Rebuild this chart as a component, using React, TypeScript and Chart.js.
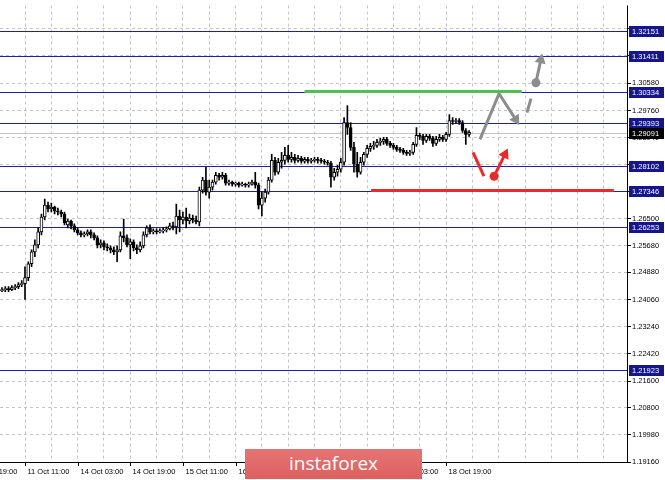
import React, { useEffect, useRef } from 'react';
import { Chart, registerables } from 'chart.js';

Chart.register(...registerables);

// ---- data (GBP/USD H1) ----
const FIRST_BAR = -7;
const opens = [
  1.2433, 1.2436, 1.2439, 1.2436, 1.2442, 1.2445, 1.2451, 1.2454, 1.2472, 1.2514,
  1.2550, 1.2571, 1.2610, 1.2655, 1.2691, 1.2679, 1.2685, 1.2673, 1.2670, 1.2664,
  1.2631, 1.2643, 1.2628, 1.2616, 1.2607, 1.2601, 1.2604, 1.2610, 1.2601, 1.2592,
  1.2571, 1.2577, 1.2565, 1.2562, 1.2556, 1.2550, 1.2556, 1.2598, 1.2592, 1.2571,
  1.2580, 1.2562, 1.2556, 1.2568, 1.2601, 1.2622, 1.2610, 1.2613, 1.2610, 1.2613,
  1.2616, 1.2619, 1.2628, 1.2625, 1.2658, 1.2646, 1.2655, 1.2643, 1.2652, 1.2646,
  1.2640, 1.2736, 1.2766, 1.2730, 1.2745, 1.2760, 1.2781, 1.2775, 1.2781, 1.2757,
  1.2760, 1.2754, 1.2757, 1.2751, 1.2754, 1.2751, 1.2754, 1.2760, 1.2751, 1.2691,
  1.2712, 1.2730, 1.2766, 1.2826, 1.2790, 1.2820, 1.2826, 1.2841, 1.2829, 1.2835,
  1.2826, 1.2832, 1.2823, 1.2829, 1.2823, 1.2826, 1.2829, 1.2826, 1.2823, 1.2820,
  1.2817, 1.2775, 1.2790, 1.2799, 1.2820, 1.2940, 1.2925, 1.2865, 1.2814, 1.2790,
  1.2820, 1.2844, 1.2862, 1.2868, 1.2871, 1.2880, 1.2883, 1.2889, 1.2877, 1.2871,
  1.2865, 1.2859, 1.2856, 1.2850, 1.2847, 1.2850, 1.2874, 1.2901, 1.2898, 1.2886,
  1.2898, 1.2892, 1.2877, 1.2889, 1.2895, 1.2889, 1.2904, 1.2946, 1.2943, 1.2946,
  1.2940, 1.2916, 1.2904,
];
const highs = [
  1.2442, 1.2445, 1.2445, 1.2448, 1.2451, 1.2457, 1.2463, 1.2505, 1.2520, 1.2556,
  1.2586, 1.2622, 1.2664, 1.2709, 1.2700, 1.2697, 1.2688, 1.2682, 1.2676, 1.2670,
  1.2649, 1.2646, 1.2634, 1.2622, 1.2613, 1.2610, 1.2616, 1.2616, 1.2607, 1.2598,
  1.2586, 1.2583, 1.2574, 1.2568, 1.2565, 1.2568, 1.2610, 1.2649, 1.2601, 1.2589,
  1.2586, 1.2571, 1.2580, 1.2610, 1.2628, 1.2631, 1.2619, 1.2619, 1.2619, 1.2622,
  1.2625, 1.2637, 1.2640, 1.2694, 1.2676, 1.2670, 1.2682, 1.2664, 1.2661, 1.2658,
  1.2745, 1.2775, 1.2805, 1.2766, 1.2766, 1.2790, 1.2787, 1.2790, 1.2787, 1.2766,
  1.2763, 1.2760, 1.2760, 1.2760, 1.2757, 1.2760, 1.2766, 1.2790, 1.2757, 1.2730,
  1.2739, 1.2775, 1.2844, 1.2835, 1.2832, 1.2850, 1.2865, 1.2871, 1.2850, 1.2844,
  1.2841, 1.2838, 1.2835, 1.2835, 1.2832, 1.2835, 1.2835, 1.2832, 1.2829, 1.2826,
  1.2823, 1.2802, 1.2811, 1.2832, 1.2955, 1.2991, 1.2940, 1.2880, 1.2850, 1.2835,
  1.2850, 1.2871, 1.2877, 1.2883, 1.2889, 1.2892, 1.2895, 1.2895, 1.2883, 1.2877,
  1.2871, 1.2865, 1.2862, 1.2856, 1.2856, 1.2880, 1.2925, 1.2907, 1.2904, 1.2904,
  1.2904, 1.2898, 1.2898, 1.2904, 1.2901, 1.2910, 1.2964, 1.2955, 1.2952, 1.2952,
  1.2946, 1.2922, 1.2916,
];
const lows = [
  1.2430, 1.2430, 1.2430, 1.2433, 1.2436, 1.2439, 1.2445, 1.2406, 1.2463, 1.2505,
  1.2535, 1.2562, 1.2601, 1.2646, 1.2670, 1.2670, 1.2664, 1.2661, 1.2655, 1.2631,
  1.2622, 1.2619, 1.2610, 1.2601, 1.2595, 1.2595, 1.2598, 1.2592, 1.2586, 1.2562,
  1.2562, 1.2556, 1.2553, 1.2547, 1.2541, 1.2520, 1.2550, 1.2580, 1.2565, 1.2529,
  1.2553, 1.2544, 1.2550, 1.2562, 1.2595, 1.2604, 1.2604, 1.2604, 1.2607, 1.2607,
  1.2610, 1.2616, 1.2616, 1.2604, 1.2610, 1.2634, 1.2622, 1.2634, 1.2637, 1.2634,
  1.2628, 1.2727, 1.2721, 1.2712, 1.2736, 1.2754, 1.2766, 1.2769, 1.2751, 1.2751,
  1.2748, 1.2748, 1.2745, 1.2748, 1.2745, 1.2745, 1.2751, 1.2742, 1.2679, 1.2658,
  1.2700, 1.2724, 1.2760, 1.2781, 1.2784, 1.2802, 1.2814, 1.2820, 1.2820, 1.2817,
  1.2820, 1.2817, 1.2817, 1.2817, 1.2817, 1.2820, 1.2817, 1.2817, 1.2814, 1.2811,
  1.2745, 1.2766, 1.2778, 1.2790, 1.2811, 1.2904, 1.2856, 1.2790, 1.2775, 1.2784,
  1.2811, 1.2835, 1.2853, 1.2859, 1.2865, 1.2871, 1.2874, 1.2871, 1.2865, 1.2859,
  1.2853, 1.2850, 1.2844, 1.2841, 1.2841, 1.2844, 1.2868, 1.2889, 1.2874, 1.2880,
  1.2886, 1.2868, 1.2871, 1.2883, 1.2883, 1.2883, 1.2898, 1.2934, 1.2937, 1.2934,
  1.2910, 1.2874, 1.2898,
];
const closes = [
  1.2436, 1.2439, 1.2436, 1.2442, 1.2445, 1.2451, 1.2454, 1.2472, 1.2514, 1.2550,
  1.2571, 1.2610, 1.2655, 1.2691, 1.2679, 1.2685, 1.2673, 1.2670, 1.2664, 1.2637,
  1.2643, 1.2628, 1.2616, 1.2607, 1.2601, 1.2604, 1.2610, 1.2601, 1.2592, 1.2571,
  1.2577, 1.2565, 1.2562, 1.2556, 1.2550, 1.2556, 1.2598, 1.2592, 1.2571, 1.2580,
  1.2562, 1.2556, 1.2568, 1.2601, 1.2622, 1.2610, 1.2613, 1.2610, 1.2613, 1.2616,
  1.2619, 1.2628, 1.2625, 1.2658, 1.2646, 1.2655, 1.2643, 1.2652, 1.2646, 1.2640,
  1.2736, 1.2766, 1.2730, 1.2745, 1.2760, 1.2781, 1.2775, 1.2781, 1.2757, 1.2760,
  1.2754, 1.2757, 1.2751, 1.2754, 1.2751, 1.2754, 1.2760, 1.2751, 1.2691, 1.2712,
  1.2730, 1.2766, 1.2826, 1.2790, 1.2820, 1.2826, 1.2841, 1.2829, 1.2835, 1.2826,
  1.2832, 1.2823, 1.2829, 1.2823, 1.2826, 1.2829, 1.2826, 1.2823, 1.2820, 1.2817,
  1.2775, 1.2790, 1.2799, 1.2820, 1.2940, 1.2925, 1.2865, 1.2814, 1.2790, 1.2820,
  1.2844, 1.2862, 1.2868, 1.2871, 1.2880, 1.2883, 1.2889, 1.2877, 1.2871, 1.2865,
  1.2859, 1.2856, 1.2850, 1.2847, 1.2850, 1.2874, 1.2901, 1.2898, 1.2886, 1.2898,
  1.2892, 1.2877, 1.2889, 1.2895, 1.2889, 1.2904, 1.2946, 1.2943, 1.2946, 1.2940,
  1.2916, 1.2904, 1.2910,
];

const xTickIndex = [-16, 0, 16, 32, 48, 64, 80, 96, 112, 128];
const xTickLabels = [
  '10 Oct 19:00', '11 Oct 11:00', '14 Oct 03:00', '14 Oct 19:00', '15 Oct 11:00',
  '16 Oct 03:00', '16 Oct 19:00', '17 Oct 11:00', '18 Oct 03:00', '18 Oct 19:00',
];
const xGridStep = 8;

const yTickValues = [
  1.1916, 1.1998, 1.208, 1.216, 1.2242, 1.2324, 1.2406, 1.2488, 1.2568,
  1.265, 1.2732, 1.2814, 1.2894, 1.2976, 1.3058, 1.3142, 1.3224,
];
const yTickLabels = [
  '1.19160', '1.19980', '1.20800', '1.21600', '1.22420', '1.23240', '1.24060', '1.24880', '1.25680',
  '1.26500', '', '', '1.28940', '1.29760', '1.30580', '', '',
];

const levelValues = [1.32151, 1.31411, 1.30334, 1.29393, 1.28102, 1.27346, 1.26253, 1.21923];
const bidValue = 1.29091;

const greenSegX = [85, 151];
const greenSegY = [1.30334, 1.30334];
const redSegX = [105.2, 179];
const redSegY = [1.27346, 1.27346];

const grayPathX = [138.3, 144.1, 149.2];
const grayPathY = [1.2889, 1.3027, 1.2949];
const grayDashX = [152.6, 153.8];
const grayDashY = [1.297, 1.3012];
const grayUpX = [155.3, 156.8];
const grayUpY = [1.306, 1.3129];
const redLineX = [136.2, 139.5];
const redLineY = [1.285, 1.2778];
const redUpX = [142.6, 145.9];
const redUpY = [1.2778, 1.2844];

const X_MIN = -7.6;
const X_MAX = 183;
const Y_MIN = 1.1916;
const Y_MAX = 1.32929;

const FONT_FAMILY = '"Liberation Sans", Arial, sans-serif';
const FONT = '7.5px ' + FONT_FAMILY;
const NAVY = 'rgb(30,30,175)';
const LABEL_NAVY = 'rgb(22,22,140)';
const GRAY = '#8c8c8c';
const RED = '#ea2a2a';
const GREEN = '#4fc04f';

const rotFn = (ctx: any) => {
  const data = ctx.dataset.data;
  const i = ctx.dataIndex;
  if (i === 0) return 0;
  const xs = ctx.chart.scales.x;
  const ys = ctx.chart.scales.y;
  const dx = xs.getPixelForValue(data[i].x) - xs.getPixelForValue(data[i - 1].x);
  const dy = ys.getPixelForValue(data[i].y) - ys.getPixelForValue(data[i - 1].y);
  return (Math.atan2(dx, -dy) * 180) / Math.PI;
};

const pts = (xs: number[], ys: number[]) => xs.map((x, k) => ({ x, y: ys[k] }));

const lineDs = (xs: number[], ys: number[], color: string, head: boolean) => ({
  type: 'line',
  data: pts(xs, ys),
  borderColor: color,
  backgroundColor: color,
  borderWidth: 3,
  borderCapStyle: 'butt',
  tension: 0,
  fill: false,
  pointStyle: 'triangle',
  pointRadius: xs.map((_, k) => (head && k === xs.length - 1 ? 6.5 : 0)),
  pointBorderWidth: 0,
  pointBackgroundColor: color,
  pointRotation: rotFn,
  order: 0,
});

const dotDs = (x: number, y: number, color: string) => ({
  type: 'line',
  data: [{ x, y }],
  showLine: false,
  pointStyle: 'circle',
  pointRadius: 4.5,
  pointBorderWidth: 0,
  pointBackgroundColor: color,
  order: 0,
});

const overlayPlugin = {
  id: 'mtOverlay',
  beforeDatasetsDraw(chart: any) {
    const { ctx, chartArea: a, scales } = chart;
    const y = scales.y;
    ctx.save();
    ctx.beginPath();
    ctx.rect(a.left, a.top, a.right - a.left, a.bottom - a.top);
    ctx.clip();
    ctx.lineWidth = 1;
    const by = Math.round(y.getPixelForValue(bidValue)) + 0.5;
    ctx.strokeStyle = '#c4c4c4';
    ctx.beginPath();
    ctx.moveTo(a.left, by);
    ctx.lineTo(a.right, by);
    ctx.stroke();
    ctx.strokeStyle = NAVY;
    levelValues.forEach((v) => {
      const py = Math.round(y.getPixelForValue(v)) + 0.5;
      ctx.beginPath();
      ctx.moveTo(a.left, py);
      ctx.lineTo(a.right, py);
      ctx.stroke();
    });
    ctx.restore();
  },
  afterDraw(chart: any) {
    const { ctx, chartArea: a, scales } = chart;
    const x = scales.x;
    const y = scales.y;
    ctx.save();
    ctx.strokeStyle = '#000';
    ctx.lineWidth = 1;
    ctx.beginPath();
    ctx.moveTo(a.right + 0.5, a.top);
    ctx.lineTo(a.right + 0.5, a.bottom + 0.5);
    ctx.lineTo(a.left, a.bottom + 0.5);
    ctx.stroke();
    ctx.font = FONT;
    ctx.textBaseline = 'middle';
    ctx.textAlign = 'left';
    ctx.fillStyle = '#000';
    xTickIndex.forEach((idx, k) => {
      const px = Math.round(x.getPixelForValue(idx)) + 0.5;
      ctx.beginPath();
      ctx.moveTo(px, a.bottom);
      ctx.lineTo(px, a.bottom + 4);
      ctx.stroke();
      ctx.fillText(xTickLabels[k], px + 2, a.bottom + 10);
    });
    const label = (v: number, bg: string) => {
      const py = Math.round(y.getPixelForValue(v));
      ctx.fillStyle = bg;
      ctx.fillRect(a.right + 2, py - 5, 35, 11);
      ctx.fillStyle = '#fff';
      ctx.fillText(v.toFixed(5), a.right + 5, py + 0.5);
    };
    levelValues.forEach((v) => label(v, LABEL_NAVY));
    label(bidValue, '#000');
    ctx.restore();
  },
};

export default function App() {
  const canvasRef = useRef<HTMLCanvasElement | null>(null);

  useEffect(() => {
    const canvas = canvasRef.current;
    if (!canvas) return;
    const idx = opens.map((_, k) => FIRST_BAR + k);
    const bodyData = idx.map((xv, k) => ({ x: xv, y: [opens[k], closes[k]] }));
    const wickData = idx.map((xv, k) => ({ x: xv, y: [lows[k], highs[k]] }));
    const bodyColors = idx.map((_, k) => (closes[k] >= opens[k] ? '#ffffff' : '#000000'));

    const chart = new Chart(canvas, {
      type: 'bar',
      data: {
        datasets: [
          lineDs(greenSegX, greenSegY, GREEN, false),
          lineDs(redSegX, redSegY, RED, false),
          lineDs(grayPathX, grayPathY, GRAY, true),
          lineDs(grayDashX, grayDashY, GRAY, false),
          lineDs(grayUpX, grayUpY, GRAY, true),
          dotDs(grayUpX[0], grayUpY[0], GRAY),
          lineDs(redLineX, redLineY, RED, false),
          lineDs(redUpX, redUpY, RED, true),
          dotDs(redUpX[0], redUpY[0], RED),
          {
            type: 'bar',
            data: bodyData,
            backgroundColor: bodyColors,
            borderColor: '#000',
            borderWidth: 1,
            borderSkipped: false,
            barThickness: 3,
            minBarLength: 1,
            grouped: false,
            order: 1,
          },
          {
            type: 'bar',
            data: wickData,
            backgroundColor: '#000',
            borderWidth: 0,
            barThickness: 1,
            grouped: false,
            order: 2,
          },
        ] as any,
      },
      options: {
        animation: false,
        responsive: true,
        maintainAspectRatio: false,
        events: [],
        layout: { autoPadding: false, padding: { top: 2, left: 0, right: 0, bottom: 0 } },
        plugins: { legend: { display: false }, tooltip: { enabled: false } },
        scales: {
          x: {
            type: 'linear',
            min: X_MIN,
            max: X_MAX,
            offset: false,
            grid: { color: '#c4c4c4', drawTicks: false, offset: false, lineWidth: 1 },
            border: { display: false, dash: [3, 3] },
            ticks: { display: false },
            afterBuildTicks: (s: any) => {
              const t = [];
              for (let v = 0; v <= X_MAX; v += xGridStep) t.push({ value: v });
              s.ticks = t;
            },
            afterFit: (s: any) => {
              s.height = 18;
            },
          },
          y: {
            type: 'linear',
            position: 'right',
            min: Y_MIN,
            max: Y_MAX,
            grid: {
              color: '#c4c4c4',
              tickColor: '#000',
              tickLength: 4,
              tickBorderDash: [],
              lineWidth: 1,
            },
            border: { display: false, dash: [3, 3] },
            ticks: {
              autoSkip: false,
              padding: 1,
              color: '#000',
              font: { family: FONT_FAMILY, size: 7.5 },
              callback: (_v: any, i: number) => yTickLabels[i],
            },
            afterBuildTicks: (s: any) => {
              s.ticks = yTickValues.map((value) => ({ value }));
            },
            afterFit: (s: any) => {
              s.width = 38;
            },
          },
        },
      } as any,
      plugins: [overlayPlugin],
    });
    return () => chart.destroy();
  }, []);

  return (
    <div style={{ position: 'absolute', left: 0, top: 0, width: 665, height: 480, background: '#fff' }}>
      <canvas ref={canvasRef} />
      <div
        style={{
          position: 'absolute',
          left: 245,
          top: 449,
          width: 177,
          height: 30,
          background: 'linear-gradient(#e67474, #dc6060)',
          color: '#fff',
          fontFamily: '"Open Sans", "Noto Sans", sans-serif',
          fontSize: 19,
          lineHeight: '28px',
          textAlign: 'center',
          letterSpacing: 0,
        }}
      >
        instaforex
      </div>
    </div>
  );
}
